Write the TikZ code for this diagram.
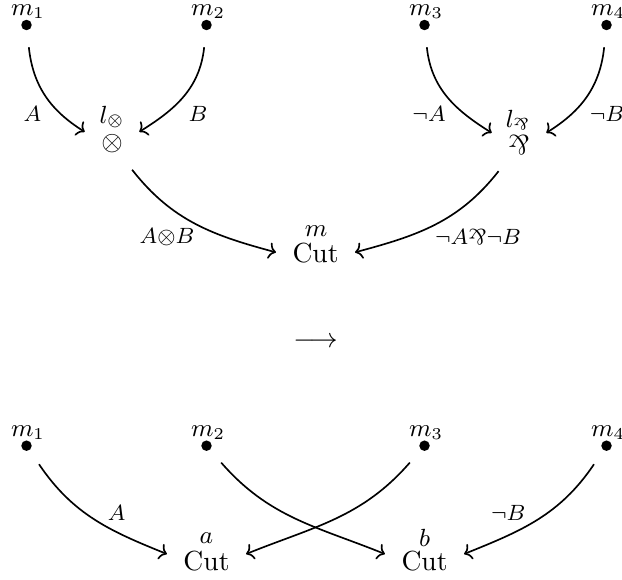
\documentclass[tikz,border=0pt]{standalone}
\usepackage{graphicx}
\usetikzlibrary{calc,arrows.meta}
\newcommand{\myparrinner}[2]{\rotatebox[origin=c]{180}{$#1\&$}}
\newcommand{\myparr}{\mathbin{\mathpalette\myparrinner\relax}}
\begin{document}
\begin{tikzpicture}[x=0.3623pt,y=0.3623pt,
  dot/.style={circle,fill,inner sep=0pt,minimum size=3.8pt,outer sep=6.2pt},
  op/.style={inner sep=5.8pt},
  lbl/.style={inner sep=0pt,font=\fontsize{8.6}{10}\selectfont},
  elbl/.style={inner sep=0pt,font=\footnotesize},
  wire/.style={-{Computer Modern Rightarrow[length=2.6pt,width=6pt]},line width=0.6pt}]
\useasboundingbox (0,0) rectangle (622,-579);
% top dots
\node[dot] (m1) at (26.5,-25) {};
\node[dot] (m2) at (206.5,-25) {};
\node[dot] (m3) at (424.5,-25) {};
\node[dot] (m4) at (606.5,-25) {};
\node[lbl] (m1l) at ($(m1)+(1.5,13)$) {$m_1$};
\node[lbl] (m2l) at ($(m2)+(1.5,13)$) {$m_2$};
\node[lbl] (m3l) at ($(m3)+(1.5,13)$) {$m_3$};
\node[lbl] (m4l) at ($(m4)+(1.5,13)$) {$m_4$};
% links
\node[op] (ot) at (112,-144) {$\otimes$};
\node[lbl] (otl) at ($(ot)+(0,27)$) {$l_{\otimes}$};
\node[op] (pr) at (519,-145) {$\myparr$};
\node[lbl] (prl) at ($(pr)+(-1,25)$) {$l_{\myparr}$};
\node[op] (cm) at (315.5,-253) {Cut};
\node[lbl] (cml) at ($(cm)+(0.5,22)$) {$m$};
% arrows top
\draw[wire] (m1) to[out=-84,in=148] (ot.156);
\draw[wire] (m2) to[out=-96,in=32] (ot.24);
\draw[wire] (m3) to[out=-84,in=148] (pr.156);
\draw[wire] (m4) to[out=-96,in=32] (pr.24);
\draw[wire] (ot) to[out=-52,in=165] (cm.179);
\draw[wire] (pr) to[out=-128,in=15] (cm.1);
\node[elbl] (la) at (32.5,-113.5) {$A$};
\node[elbl] (lb) at (198,-113.5) {$B$};
\node[elbl] (lna) at (429,-113.5) {$\neg A$};
\node[elbl] (lnb) at (607,-113.5) {$\neg B$};
\node[elbl] (lab) at (167,-237) {$A{\otimes}B$};
\node[elbl] (lnanb) at (478,-237) {$\neg A{\myparr}\neg B$};
% middle arrow
\node (arr) at (315.5,-342) {$\longrightarrow$};
% bottom
\node[dot] (n1) at (26.5,-445.7) {};
\node[dot] (n2) at (206.5,-445.7) {};
\node[dot] (n3) at (424.5,-445.7) {};
\node[dot] (n4) at (606.5,-445.7) {};
\node[lbl] (n1l) at ($(n1)+(1.5,13)$) {$m_1$};
\node[lbl] (n2l) at ($(n2)+(1.5,13)$) {$m_2$};
\node[lbl] (n3l) at ($(n3)+(1.5,13)$) {$m_3$};
\node[lbl] (n4l) at ($(n4)+(1.5,13)$) {$m_4$};
\node[op] (ca) at (206.5,-561) {Cut};
\node[op] (cb) at (424.5,-561) {Cut};
\node[lbl] (cal) at ($(ca)+(0,22.5)$) {$a$};
\node[lbl] (cbl) at ($(cb)+(0,23)$) {$b$};
\draw[wire] (n1) to[out=-56,in=158] (ca.170);
\draw[wire] (n2) to[out=-49,in=158] (cb.170);
\draw[wire] (n3) to[out=-131,in=22] (ca.10);
\draw[wire] (n4) to[out=-124,in=22] (cb.10);
\node[elbl] (lba) at (116.7,-513) {$A$};
\node[elbl] (lbnb) at (508.3,-513) {$\neg B$};
\end{tikzpicture}
\end{document}
